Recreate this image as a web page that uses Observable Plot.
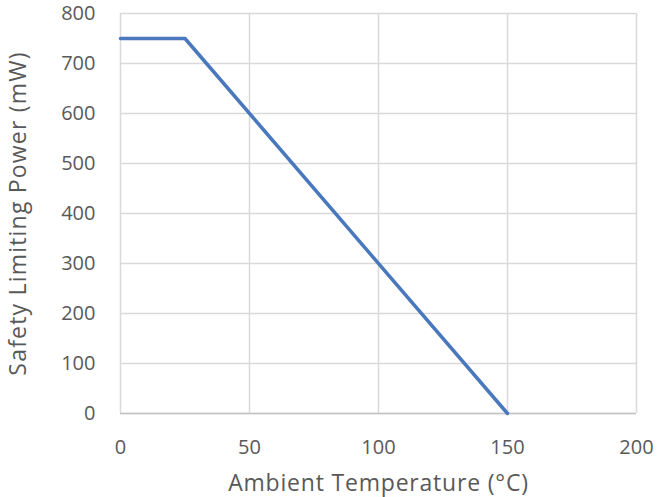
<!DOCTYPE html>
<html>
<head>
<meta charset="utf-8">
<script src="https://cdn.jsdelivr.net/npm/d3@7"></script>
<script src="https://cdn.jsdelivr.net/npm/@observablehq/plot@0.6"></script>
<style>
  html, body { margin: 0; padding: 0; background: #fff; }
  #chart svg { display: block; }
</style>
</head>
<body>
<div id="chart"></div>
<script>
// Derating curve: safety limiting power vs ambient temperature
const temperature = [0, 25, 150];
const power = [750, 750, 0];
const xTicks = [0, 50, 100, 150, 200];
const yTicks = [0, 100, 200, 300, 400, 500, 600, 700, 800];

const data = temperature.map((t, i) => ({t, p: power[i]}));

const textColor = "#595959";
const gridColor = "#d9d9d9";
const font = "'Open Sans', 'Noto Sans', sans-serif";

const chart = Plot.plot({
  width: 657,
  height: 497,
  marginLeft: 120,
  marginRight: 21,
  marginTop: 13,
  marginBottom: 84,
  style: {fontFamily: font, color: textColor, background: "#fff"},
  x: {domain: [0, 200]},
  y: {domain: [0, 800]},
  marks: [
    Plot.gridX(xTicks, {stroke: gridColor, strokeOpacity: 1, strokeWidth: 1.5}),
    Plot.gridY(yTicks, {stroke: gridColor, strokeOpacity: 1, strokeWidth: 1.5}),
    Plot.ruleY([0], {stroke: "#c4c4c4", strokeWidth: 1.5}),
    Plot.axisX(xTicks, {
      tickSize: 0, tickPadding: 26, fontSize: 20, fill: textColor,
      label: "Ambient Temperature (°C)", labelAnchor: "center", labelArrow: "none",
      labelOffset: 77
    }),
    Plot.axisY(yTicks, {
      tickSize: 0, tickPadding: 25, fontSize: 20, fill: textColor,
      label: "Safety Limiting Power (mW)", labelAnchor: "center", labelArrow: "none",
      labelOffset: 111
    }),
    Plot.line(data, {x: "t", y: "p", stroke: "#4a78bd", strokeWidth: 3.5})
  ]
});

// Axis titles: larger type with a little tracking
chart.querySelectorAll("g[aria-label='x-axis label'] text").forEach(t => {
  t.setAttribute("font-size", "23");
  t.setAttribute("letter-spacing", "0.8");
});
chart.querySelectorAll("g[aria-label='y-axis label'] text").forEach(t => {
  t.setAttribute("font-size", "23");
  t.setAttribute("letter-spacing", "1.2");
});

document.getElementById("chart").appendChild(chart);
</script>
</body>
</html>
